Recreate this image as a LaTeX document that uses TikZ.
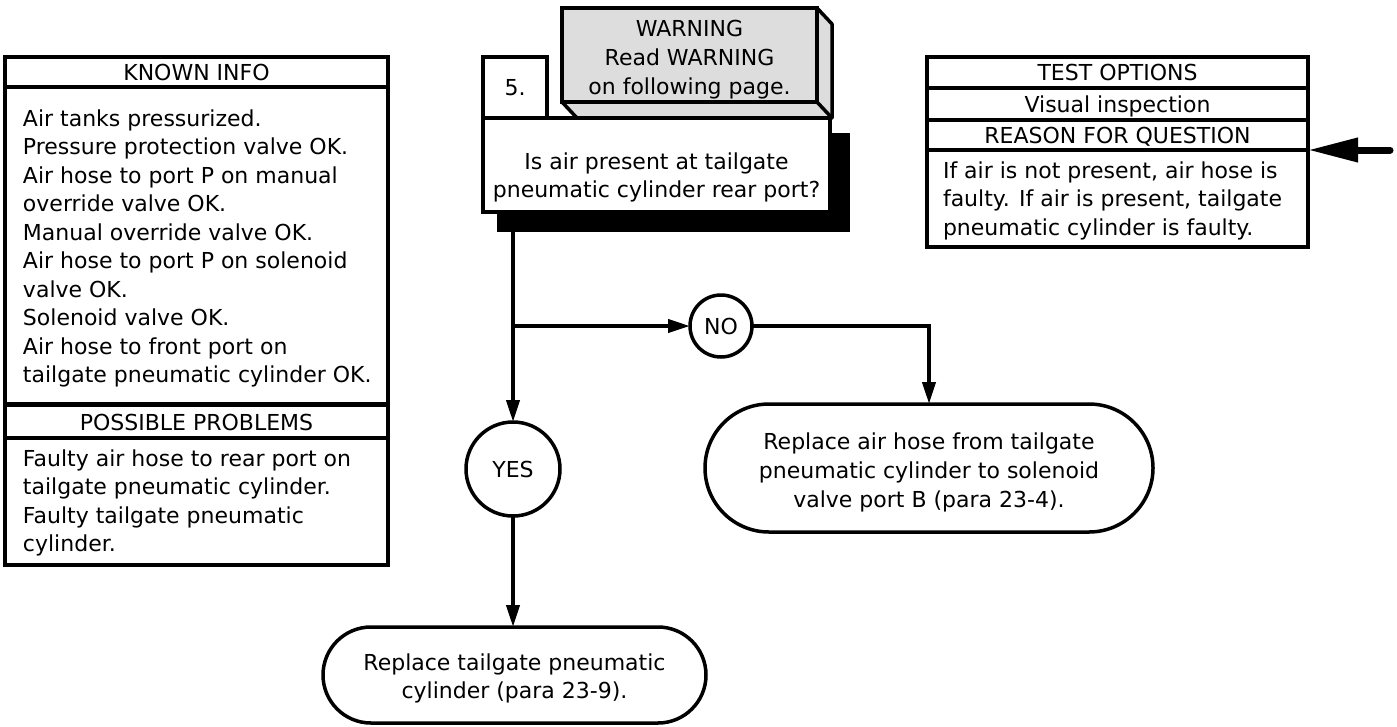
\documentclass[tikz,border=0pt]{standalone}
\usepackage{fontspec}
\setmainfont{DejaVu Sans}
\usetikzlibrary{arrows.meta,calc}
% fixed height for the first line of multi-line texts, so that
% the top of a text node sits a known distance above its first baseline
\newcommand\lnstrut{\rule{0pt}{20pt}}
\definecolor{warngray}{RGB}{221,221,221}
\begin{document}
\begin{tikzpicture}[x=1pt,y=-1pt,
  every node/.style={inner sep=0pt, outer sep=0pt},
  txt/.style={font=\fontsize{22}{28.5}\selectfont},
  panel/.style={draw, line width=3.5pt, fill=white, rectangle, anchor=north west},
  head/.style={txt, text height=16pt, text depth=0pt, yshift=-1pt},
  body/.style={txt, align=left, anchor=north west},
  ctext/.style={txt, align=center, anchor=north},
  wire/.style={line width=4pt},
  flow/.style={wire, -{Triangle[length=22pt,width=13pt]}},
  answer/.style={circle, draw, line width=3.5pt, fill=white, txt},
  stadium/.style={draw, line width=3.5pt, fill=white, rectangle, rounded corners=#1},
]
\path[fill=white, use as bounding box] (0,0) rectangle (1397,726);

% ---- KNOWN INFO / POSSIBLE PROBLEMS column
\node[panel, head, minimum width=383pt, minimum height=31pt] (kh) at (5,56) {KNOWN INFO};
\node[panel, minimum width=383pt, minimum height=317pt] (kb) at (5,87) {};
\node[body] (kbt) at (23,106) {\lnstrut Air tanks pressurized.\\
  Pressure protection valve OK.\\
  Air hose to port P on manual\\
  override valve OK.\\
  Manual override valve OK.\\
  Air hose to port P on solenoid\\
  valve OK.\\
  Solenoid valve OK.\\
  Air hose to front port on\\
  tailgate pneumatic cylinder OK.};
\node[panel, head, minimum width=383pt, minimum height=34pt] (ph) at (5,404) {POSSIBLE PROBLEMS};
\node[panel, minimum width=383pt, minimum height=127pt] (pb) at (5,438) {};
\node[body] (pbt) at (23,446) {\lnstrut Faulty air hose to rear port on\\
  tailgate pneumatic cylinder.\\
  Faulty tailgate pneumatic\\
  cylinder.};

% ---- TEST OPTIONS / REASON FOR QUESTION column
\node[panel, head, minimum width=381pt, minimum height=31pt] (th) at (927,56) {TEST OPTIONS};
\node[panel, head, minimum width=381pt, minimum height=32pt] (vi) at (927,87) {Visual inspection};
\node[panel, head, minimum width=381pt, minimum height=31pt] (rh) at (927,119) {REASON FOR QUESTION};
\node[panel, minimum width=381pt, minimum height=97pt] (rb) at (927,150) {};
\node[body] (rbt) at (943,158) {\lnstrut If air is not present, air hose is\\
  faulty. If air is present, tailgate\\
  pneumatic cylinder is faulty.};

% ---- question step with its shadow and the warning tab
\node[fill=black, rectangle, anchor=north west, minimum width=353pt, minimum height=99pt] (sh) at (497,133) {};
\node[panel, fill=warngray, minimum width=255pt, minimum height=94pt] (warn) at (562,8) {};
\draw[line width=3.5pt, fill=warngray, line join=round]
  (warn.north east) -- ++(15,16) -- ++(0,94) -- ($(warn.south west)+(15,16)$) -- (warn.south west) -- cycle;
\draw[line width=3.5pt] (warn.south east) -- ++(15,16);
\node[panel, minimum width=347pt, minimum height=94pt] (q) at (483,118) {};
\node[panel, txt, minimum width=64pt, minimum height=61pt] (num) at (483,57) {5.};
\node[panel, fill=warngray, minimum width=255pt, minimum height=94pt] (warnf) at (562,8) {};
\node[ctext, font=\fontsize{22}{29}\selectfont] (warnt) at (689.5,16) {\lnstrut WARNING\\ Read WARNING\\ on following page.};
\node[ctext] (qt) at (656.5,149) {\lnstrut Is air present at tailgate\\ pneumatic cylinder rear port?};

% ---- answers and results
\node[answer, minimum size=62pt] (no) at (721,326) {NO};
\node[answer, minimum size=94pt] (yes) at (513,469) {YES};
\node[stadium=64pt, minimum width=448pt, minimum height=128pt] (t1) at (929,468) {};
\node[ctext, font=\fontsize{22}{29}\selectfont] (t1t) at (929,429) {\lnstrut Replace air hose from tailgate\\ pneumatic cylinder to solenoid\\ valve port B (para 23-4).};
\node[stadium=48pt, minimum width=383pt, minimum height=96pt] (t2) at (514.5,675) {};
\node[ctext] (t2t) at (514.5,650) {\lnstrut Replace tailgate pneumatic\\ cylinder (para 23-9).};

% ---- connectors
\coordinate (br) at (513,326);
\draw[wire] (yes.north |- sh.south) -- (br);
\draw[flow] (br) -- (yes.north);
\draw[flow] (br) -- (no.west);
\draw[flow] (no.east) -| (t1.north);
\draw[flow] (yes.south) -- (yes.south |- t2.north);
\coordinate (feed) at (1390,150);
\draw[line width=7pt, line cap=round, -{Triangle[length=50pt,width=23pt]}] (feed) -- (rb.north east);
\end{tikzpicture}
\end{document}
